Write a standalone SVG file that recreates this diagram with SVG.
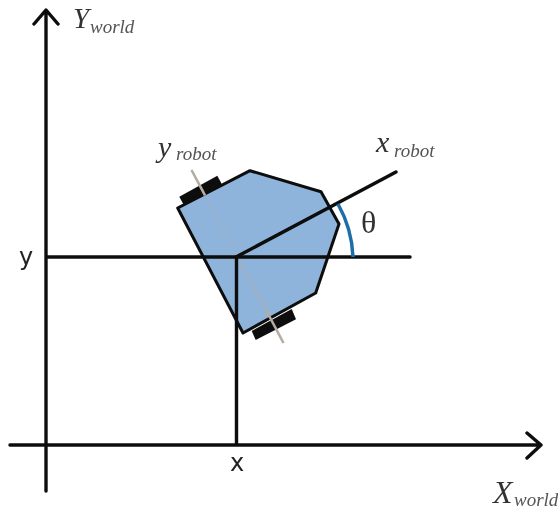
<svg xmlns="http://www.w3.org/2000/svg" width="558" height="510" viewBox="0 0 558 510">
<defs><style>
.ln{fill:none;stroke:#0b0b0b;stroke-width:3.4;stroke-linecap:round;stroke-linejoin:round}
.edge{stroke:#0b0b0b;stroke-width:3;stroke-linejoin:round}
.axis{stroke:#b5aca2;stroke-width:2.6;fill:none}
.big{font-family:"Liberation Serif",serif;font-style:italic;fill:#333}
.sub{font-family:"Liberation Serif",serif;font-style:italic;font-size:19px;fill:#555}
.sans{font-family:"DejaVu Sans",sans-serif;font-size:24px;fill:#222}
</style><filter id="soft" x="-5%" y="-5%" width="110%" height="110%"><feGaussianBlur stdDeviation="0.5"/></filter></defs>
<rect width="558" height="510" fill="#fff"/>
<g filter="url(#soft)">
<g id="robot">
<polygon points="179.3,196.7 217.3,175.7 222.3,185 184.3,206" fill="#111"/>
<polygon points="251.7,331 291.7,309 296,319.3 255.7,340" fill="#111"/>
<polygon points="177.700,208 250,170.700 321,191.700 339,224 315.700,293 243,333" fill="#8fb4dc" class="edge"/>
<line x1="191.500" y1="170" x2="205" y2="195.400" class="axis"/>
<line x1="205" y1="195.400" x2="236" y2="254" class="axis" stroke-opacity="0.15"/>
<line x1="236" y1="254" x2="266" y2="310" class="axis" stroke-opacity="0.4"/>
<line x1="266" y1="310" x2="283.500" y2="343" class="axis"/>
</g>
<g id="connectors">
<path class="ln" d="M46 491V12M34 24L46 10L58 24"/>
<path class="ln" d="M10 445H540M527 433L541 445L527 458"/>
<path class="ln" d="M47 257H410"/>
<path class="ln" d="M236.500 257V444"/>
<path class="ln" d="M236 257L396 172"/>
<path d="M353 257A117 117 0 0 0 338 204" fill="none" stroke="#1f6ea8" stroke-width="3.500"/>
</g>
<g id="labels">
<text class="big" font-size="29" x="73" y="28">Y</text><text class="sub" x="90" y="33">world</text>
<text class="big" font-size="32" x="493" y="503">X</text><text class="sub" x="514" y="506">world</text>
<text class="big" font-size="30" x="158" y="157">y</text><text class="sub" x="176" y="160">robot</text>
<text class="big" font-size="30" x="376" y="152">x</text><text class="sub" x="394" y="157">robot</text>
<text x="361" y="233" font-family="Liberation Serif,serif" font-size="32" fill="#333">θ</text>
<text class="sans" x="19" y="265">y</text>
<text class="sans" x="230" y="471">x</text>
</g>
</g>
</svg>
